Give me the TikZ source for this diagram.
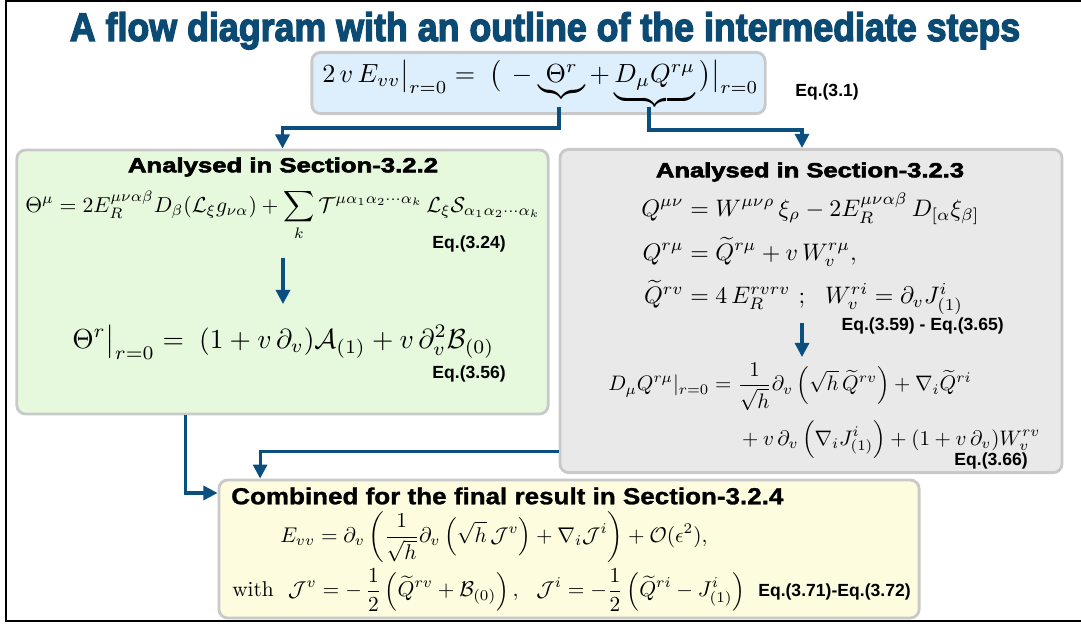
\documentclass[tikz,border=0pt]{standalone}
\usepackage{amsmath}
\usepackage{amssymb}
\usepackage{graphicx}
\usepackage{fontspec}
\usetikzlibrary{arrows.meta}
\newfontfamily\titlefont[FakeBold=3.5]{Liberation Sans Bold}
\newfontfamily\headfont[FakeBold=2.5]{Liberation Sans Bold}
\newfontfamily\combfont[FakeBold=1.2]{Liberation Sans Bold}
\newfontfamily\labelfont{Liberation Sans Bold}
\definecolor{titleblue}{HTML}{0B4A72}
\definecolor{arrowblue}{HTML}{0B4F80}
\definecolor{boxgray}{HTML}{C9C9C9}
\definecolor{fillblue}{HTML}{DDEFFC}
\definecolor{fillgreen}{HTML}{E6F9DD}
\definecolor{fillgray}{HTML}{E9E9E9}
\definecolor{fillyellow}{HTML}{FDFCDF}
\newcommand{\fitto}[2]{\resizebox{#1}{!}{$\displaystyle #2$}}
\newcommand{\headline}[3]{\resizebox{#1}{#2}{\headfont #3}}
\tikzset{
  box/.style={draw=boxgray,line width=2pt,rounded corners=0.22cm,inner sep=0pt},
  flow/.style={draw=arrowblue,line width=2.2pt,-{Triangle[width=10pt,length=10pt]}},
  eqlabel/.style={inner sep=0pt,font=\labelfont\fontsize{12.5}{14}\selectfont},
  formula/.style={inner sep=0pt}
}

\begin{document}
\begin{tikzpicture}[x=0.025cm,y=-0.025cm]
\useasboundingbox (0,0) rectangle (1081,628);
\draw[line width=1.6pt] (1081,0.6) -- (6,0.6) -- (6,621) -- (1081,621);
\node[anchor=base,text=titleblue,inner sep=0pt] (title) at (545,41)
 {\resizebox{23.75cm}{0.72cm}{\titlefont A flow diagram with an outline of the intermediate steps}};

% boxes
\node[box,fill=fillblue,minimum width=11.33cm,minimum height=1.53cm] (top) at (538.5,83) {};
\node[box,fill=fillgreen,minimum width=13.28cm,minimum height=6.6cm] (green) at (282.5,282) {};
\node[box,fill=fillgray,minimum width=12.55cm,minimum height=8.08cm] (gray) at (811,311) {};
\node[box,fill=fillyellow,minimum width=17.5cm,minimum height=3.45cm] (yellow) at (569,549) {};

% top equation
\node[formula,anchor=west] (eqtop) at (322,85)
 {\fitto{10.9cm}{2\,v\,E_{vv}\big|_{r=0} =\; \big(\,-\underbrace{\Theta^r}+\underbrace{D_\mu Q^{r\mu}}\big)\big|_{r=0}}};
\node[eqlabel,anchor=west] (l31) at (795,92) {Eq.(3.1)};
\coordinate (thetab) at (559,107);
\coordinate (dqb) at (649,107);

% green box
\node[inner sep=0pt] (ghead) at (283,167) {\headline{7.75cm}{0.37cm}{Analysed in Section-3.2.2}};
\node[formula,anchor=west] (thetamu) at (25,215)
 {\fitto{12.875cm}{\Theta^\mu = 2E_R^{\mu\nu\alpha\beta} D_\beta(\mathcal{L}_\xi g_{\nu\alpha}) + \sum_k \mathcal{T}^{\mu\alpha_1\alpha_2\cdots\alpha_k}\,\mathcal{L}_\xi\mathcal{S}_{\alpha_1\alpha_2\cdots\alpha_k}}};
\node[eqlabel,anchor=east] (l324) at (506,244) {Eq.(3.24)};
\node[formula,anchor=west] (thetar) at (72,342)
 {\fitto{10.55cm}{\Theta^r\big|_{r=0} =\; (1+v\,\partial_v)\mathcal{A}_{(1)} + v\,\partial_v^2\mathcal{B}_{(0)}}};
\node[eqlabel,anchor=east] (l356) at (506,374) {Eq.(3.56)};
\coordinate (ga) at (283,258);
\coordinate (gb) at (283,304);

% gray box
\node[inner sep=0pt] (rhead) at (810,172) {\headline{7.7cm}{0.37cm}{Analysed in Section-3.2.3}};
\node[formula,anchor=west] (qdefs) at (641,254)
 {\fitto{8.45cm}{\begin{aligned}
  Q^{\mu\nu} &= W^{\mu\nu\rho}\,\xi_\rho - 2E_R^{\mu\nu\alpha\beta}\,D_{[\alpha}\xi_{\beta]}\\[1pt]
  Q^{r\mu} &= \widetilde{Q}^{r\mu} + v\,W_v^{r\mu},\\[1pt]
  \widetilde{Q}^{rv} &= 4\,E_R^{rvrv}\ ;\ \ W_v^{ri} = \partial_v J^i_{(1)}
 \end{aligned}}};
\node[eqlabel,anchor=east] (l359) at (1004,326) {Eq.(3.59) - Eq.(3.65)};
\node[formula,anchor=west] (dq) at (608,411)
 {\fitto{10.8cm}{\begin{aligned}
  D_\mu Q^{r\mu}|_{r=0} ={}& \frac{1}{\sqrt{h}}\partial_v\left(\sqrt{h}\,\widetilde{Q}^{rv}\right) + \nabla_i\widetilde{Q}^{ri}\\[1pt]
  & + v\,\partial_v\left(\nabla_i J^i_{(1)}\right) + (1+v\,\partial_v)W_v^{rv}
 \end{aligned}}};
\node[eqlabel,anchor=east] (l366) at (1028,461) {Eq.(3.66)};
\coordinate (ra) at (802,323);
\coordinate (rb) at (802,357);

% yellow box
\node[inner sep=0pt,anchor=west] (yhead) at (231,496) {\resizebox{13.8cm}{0.42cm}{\combfont Combined for the final result in Section-3.2.4}};
\node[formula,anchor=west] (evv) at (280,537)
 {\fitto{10.675cm}{E_{vv} = \partial_v\left(\frac{1}{\sqrt{h}}\partial_v\left(\sqrt{h}\,\mathcal{J}^v\right) + \nabla_i\mathcal{J}^i\right) + \mathcal{O}(\epsilon^2),}};
\node[formula,anchor=west] (jdefs) at (232,590)
 {\fitto{12.825cm}{\text{with}\ \ \mathcal{J}^v = -\,\frac12\left(\widetilde{Q}^{rv}+\mathcal{B}_{(0)}\right),\ \ \mathcal{J}^i = -\frac12\left(\widetilde{Q}^{ri}-J^i_{(1)}\right)}};
\node[eqlabel,anchor=west] (l371) at (758,592) {Eq.(3.71)-Eq.(3.72)};

% connectors
\draw[flow] (thetab) -- ++(0,21) -| (green.north);
\draw[flow] (dqb) -- ++(0,23) -| ([xshift=-0.225cm]gray.north);
\draw[flow] (ga) -- (gb);
\draw[flow] (ra) -- (rb);
\draw[flow] ([xshift=-2.42cm]green.south) |- ([yshift=1.4cm]yellow.west);
\draw[flow] ([yshift=-3.52cm]gray.west) -| ([xshift=-7.72cm]yellow.north);
\end{tikzpicture}
\end{document}
